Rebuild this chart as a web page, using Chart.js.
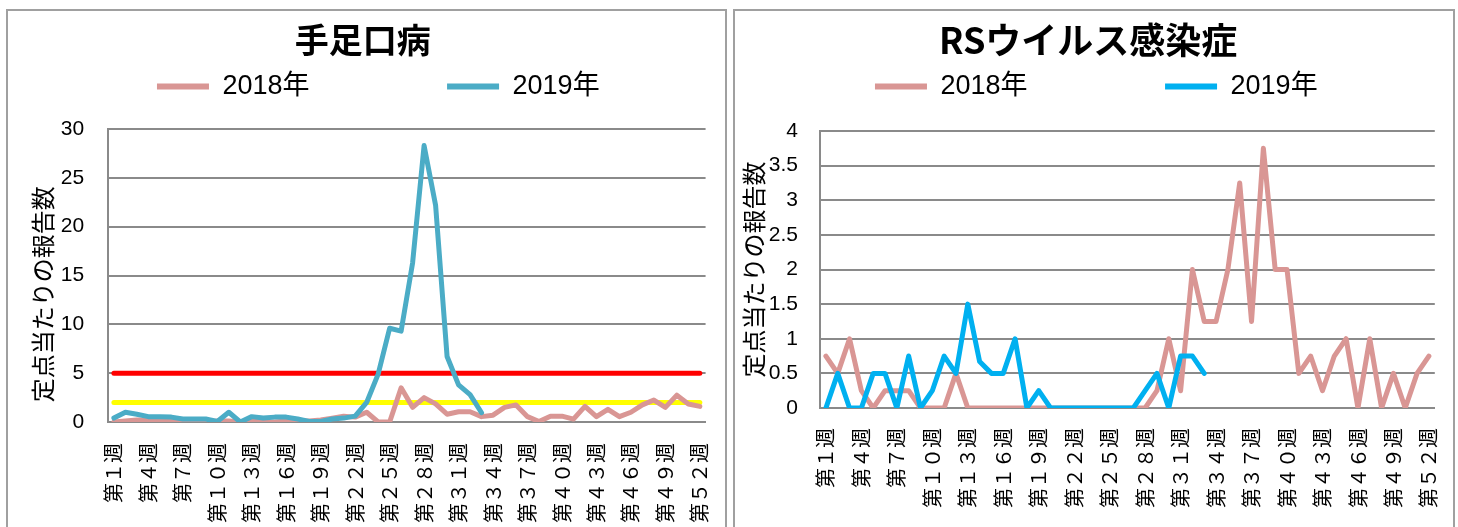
<!DOCTYPE html>
<html lang="ja">
<head>
<meta charset="utf-8">
<title>手足口病・RSウイルス感染症</title>
<script src="https://cdn.jsdelivr.net/npm/chart.js@4"></script>
<style>
  html, body { margin: 0; padding: 0; background: #fff; overflow: hidden; }
  body { width: 1458px; height: 527px; position: relative; }
  .panel { position: absolute; top: 9px; height: 560px; border: 2px solid #a0a0a0; box-sizing: border-box; }
  #panel-hfmd { left: 6px; width: 721px; }
  #panel-rsv { left: 733px; width: 722px; }
  .panel canvas { display: block; }
</style>
</head>
<body>
<div class="panel" id="panel-hfmd"><canvas id="hfmdChart" width="717" height="533"></canvas></div>
<div class="panel" id="panel-rsv"><canvas id="rsvChart" width="718" height="533"></canvas></div>
<script>
// week labels (x axis)
const WEEKS = [
  '第１週', '第２週', '第３週', '第４週', '第５週', '第６週', '第７週', '第８週', '第９週', '第１０週',
  '第１１週', '第１２週', '第１３週', '第１４週', '第１５週', '第１６週', '第１７週', '第１８週', '第１９週', '第２０週',
  '第２１週', '第２２週', '第２３週', '第２４週', '第２５週', '第２６週', '第２７週', '第２８週', '第２９週', '第３０週',
  '第３１週', '第３２週', '第３３週', '第３４週', '第３５週', '第３６週', '第３７週', '第３８週', '第３９週', '第４０週',
  '第４１週', '第４２週', '第４３週', '第４４週', '第４５週', '第４６週', '第４７週', '第４８週', '第４９週', '第５０週',
  '第５１週', '第５２週'
];

// 手足口病
const HFMD_2018 = [
  0.0, 0.1, 0.2, 0.2, 0.1, 0.1, 0.0, 0.0, 0.0, 0.1,
  0.1, 0.0, 0.1, 0.0, 0.0, 0.1, 0.1, 0.1, 0.2, 0.4,
  0.6, 0.5, 1.0, 0.0, 0.0, 3.5, 1.5, 2.5, 1.85, 0.8,
  1.05, 1.05, 0.55, 0.7, 1.5, 1.75, 0.55, 0.05, 0.6, 0.6,
  0.3, 1.6, 0.55, 1.3, 0.55, 1.0, 1.75, 2.25, 1.5, 2.75,
  1.85, 1.6
];
const HFMD_2019 = [
  0.4, 1.0, 0.8, 0.55, 0.55, 0.5, 0.3, 0.3, 0.3, 0.05,
  1.0, 0.0, 0.55, 0.4, 0.5, 0.5, 0.3, 0.05, 0.05, 0.3,
  0.4, 0.6, 2.0, 4.9, 9.6, 9.3, 16.3, 28.3, 22.2, 6.7,
  3.8, 2.8, 0.95
];
const HFMD_ALERT = 5;      // 警報レベル
const HFMD_WARNING = 2;    // 注意報レベル
const HFMD_Y_TICKS = { max: 30, step: 5 };

// RSウイルス感染症
const RSV_2018 = [
  0.75, 0.5, 1.0, 0.25, 0, 0.25, 0.25, 0.25, 0, 0,
  0, 0.5, 0, 0, 0, 0, 0, 0, 0, 0,
  0, 0, 0, 0, 0, 0, 0, 0, 0.25, 1.0,
  0.25, 2.0, 1.25, 1.25, 2.0, 3.25, 1.25, 3.75, 2.0, 2.0,
  0.5, 0.75, 0.25, 0.75, 1.0, 0, 1.0, 0, 0.5, 0,
  0.5, 0.75
];
const RSV_2019 = [
  0, 0.5, 0, 0, 0.5, 0.5, 0, 0.75, 0, 0.25,
  0.75, 0.5, 1.5, 0.67, 0.5, 0.5, 1.0, 0, 0.25, 0,
  0, 0, 0, 0, 0, 0, 0, 0.25, 0.5, 0,
  0.75, 0.75, 0.5
];
const RSV_Y_TICKS = { max: 4, step: 0.5 };

const SANS = "'Liberation Sans', 'Noto Sans CJK JP', sans-serif";
const CJK = "'Noto Sans CJK JP', sans-serif";
const GRID_COLOR = '#8a8a8a';
const PINK = '#d99694';
const Y_TITLE = '定点当たりの報告数';
// pushes the second legend entry to the right, like the Excel legend
const LEGEND_GAP = ' '.repeat(15);

function lineSet(label, data, color, order) {
  return {
    label,
    data,
    borderColor: color,
    backgroundColor: color,
    borderWidth: 5,
    pointRadius: 0,
    pointHoverRadius: 0,
    tension: 0,
    borderJoinStyle: 'round',
    borderCapStyle: 'round',
    order
  };
}

function levelSet(label, value, color) {
  const set = lineSet(label, [
    { x: WEEKS[0], y: value },
    { x: WEEKS[WEEKS.length - 1], y: value }
  ], color, 5);
  set.isLevel = true;
  return set;
}

function buildChart(canvasId, opts) {
  const ctx = document.getElementById(canvasId);
  return new Chart(ctx, {
    type: 'line',
    data: { labels: WEEKS, datasets: opts.datasets },
    options: {
      responsive: false,
      animation: false,
      events: [],
      layout: { padding: opts.padding },
      plugins: {
        title: {
          display: true,
          // trailing blanks nudge the centred text left
          text: opts.title + ' '.repeat(opts.titleTrail),
          color: '#000',
          font: { family: CJK, size: opts.titleSize, weight: 'bold', lineHeight: '16px' },
          padding: { top: 21, bottom: 0 }
        },
        // empty spacer between the legend and the plot
        subtitle: {
          display: true,
          text: '',
          weight: 500,
          font: { size: 1, lineHeight: opts.legendGap + 'px' },
          padding: 0
        },
        legend: {
          display: true,
          position: 'top',
          labels: {
            color: '#000',
            font: { family: SANS, size: 27 },
            boxWidth: 52,
            boxHeight: 6,
            padding: 25,
            filter: (item, data) => !data.datasets[item.datasetIndex].isLevel,
            sort: (a, b) => a.datasetIndex - b.datasetIndex,
            generateLabels(chart) {
              const items = Chart.defaults.plugins.legend.labels.generateLabels(chart);
              items.forEach(item => {
                item.lineWidth = 0;
                if (item.datasetIndex === 0) item.text += LEGEND_GAP;
              });
              return items;
            }
          }
        },
        tooltip: { enabled: false }
      },
      scales: {
        x: {
          offset: true,
          grid: { display: false, drawTicks: false },
          border: { display: true, color: GRID_COLOR, width: 2 },
          ticks: {
            autoSkip: false,
            minRotation: 90,
            maxRotation: 90,
            padding: opts.xPadding,
            color: '#000',
            font: { family: CJK, size: 20, lineHeight: 0.2 },
            callback(value, index) {
              return index % 3 === 0 ? this.getLabelForValue(value) : '';
            }
          }
        },
        y: {
          min: 0,
          max: opts.yTicks.max,
          grid: { color: GRID_COLOR, lineWidth: 2, drawTicks: false },
          border: { display: true, color: GRID_COLOR, width: 2 },
          ticks: {
            stepSize: opts.yTicks.step,
            padding: opts.yPadding,
            color: '#000',
            font: { family: SANS, size: 21 },
            callback: value => String(value)
          },
          title: {
            display: true,
            // trailing blanks move the rotated title down a little
            text: Y_TITLE + ' '.repeat(opts.yTitleTrail),
            color: '#000',
            font: { family: CJK, size: 24 },
            padding: opts.yTitlePadding
          }
        }
      }
    }
  });
}

buildChart('hfmdChart', {
  title: '手足口病',
  titleSize: 34,
  titleTrail: 4,
  datasets: [
    lineSet('2018年', HFMD_2018, PINK, 1),
    lineSet('2019年', HFMD_2019, '#4bacc6', 0),
    levelSet('警報レベル', HFMD_ALERT, '#ff0000'),
    levelSet('注意報レベル', HFMD_WARNING, '#ffff00')
  ],
  yTicks: HFMD_Y_TICKS,
  padding: { left: 40.6, right: 17, top: 0, bottom: 0 },
  legendGap: 19,
  xPadding: 21,
  yPadding: 24,
  yTitleTrail: 7,
  yTitlePadding: { top: -20.6, bottom: -20 }
});

buildChart('rsvChart', {
  title: 'RSウイルス感染症',
  titleSize: 36,
  titleTrail: 2,
  datasets: [
    lineSet('2018年', RSV_2018, PINK, 1),
    lineSet('2019年', RSV_2019, '#00b0f0', 0)
  ],
  yTicks: RSV_Y_TICKS,
  padding: { left: 16.6, right: 12, top: 0, bottom: 16 },
  legendGap: 21,
  xPadding: 20,
  yPadding: 22,
  yTitleTrail: 0,
  yTitlePadding: { top: -12, bottom: -21.6 }
});
</script>
</body>
</html>
